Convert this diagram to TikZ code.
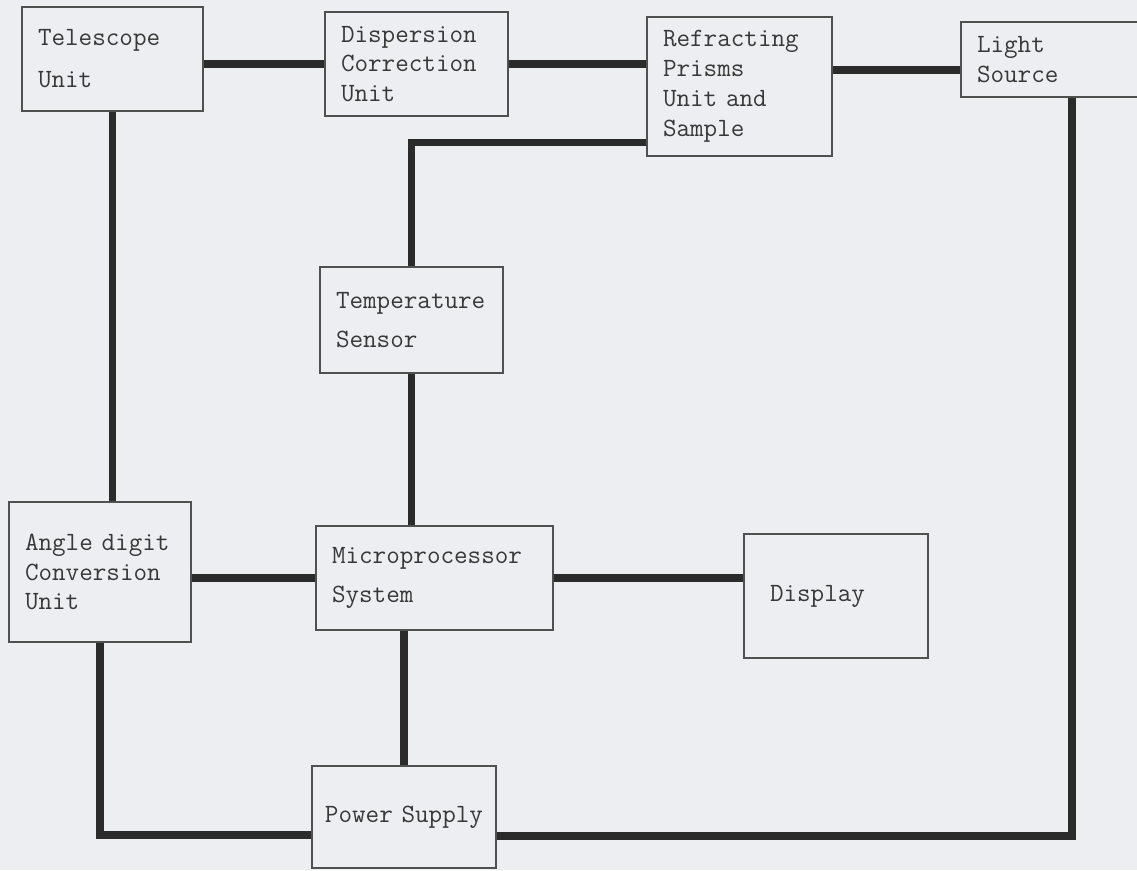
\documentclass[tikz,border=0pt]{standalone}
\usepackage{xcolor}
\definecolor{paper}{HTML}{EDEEF2}
\definecolor{wirecol}{HTML}{2B2B2B}
\definecolor{edgecol}{HTML}{505050}
\definecolor{inkcol}{HTML}{383838}
\begin{document}
\begin{tikzpicture}[x=0.02cm, y=-0.02cm,
  font=\fontsize{15}{17}\selectfont\ttfamily,
  unit/.style 2 args={draw=edgecol, line width=0.6pt, text=inkcol, align=left, inner xsep=0.32cm, inner ysep=0pt, text width=#1, minimum height=#2},
  wire/.style={draw=wirecol, line width=4pt}]
\fill[paper] (0,0) rectangle (1137,870);
\useasboundingbox (0,0) rectangle (1137,870);
\node[unit={2.98cm}{2.08cm}] (tele) at (112.5,59) {Telescope\\[7pt]Unit};
\node[unit={3.02cm}{2.08cm}] (corr) at (416.5,64) {Dispersion\\Correction\\Unit};
\node[unit={3.06cm}{2.78cm}] (refr) at (739.5,86.5) {Refracting\\Prisms\\Unit and\\Sample};
\node[unit={3.00cm}{1.50cm}] (light) at (1052,59.5) {Light\\Source};
\node[unit={3.02cm}{2.12cm}] (temp) at (411.5,320) {Temperature\\[5.5pt]Sensor};
\node[unit={3.00cm}{2.80cm}] (angle) at (100,572) {Angle digit\\Conversion\\Unit};
\node[unit={4.10cm}{2.08cm}] (micro) at (434.5,578) {Microprocessor\\[5.5pt]System};
\node[unit={2.64cm}{2.48cm}, inner xsep=0.52cm] (disp) at (836,596) {Display};
\node[unit={3.32cm}{2.04cm}, inner xsep=0.18cm, align=center] (power) at (404,817) {Power Supply};
\coordinate (lw) at ([yshift=-0.21cm]light.west);
\coordinate (pw) at ([yshift=-0.36cm]power.west);
\coordinate (pe) at ([yshift=-0.38cm]power.east);
\draw[wire] (tele.east |- corr.west) -- (corr.west);
\draw[wire] (corr.east) -- (corr.east -| refr.west);
\draw[wire] (lw -| refr.east) -- (lw);
\draw[wire] ([yshift=0.28cm]refr.south west) -| (temp.north);
\draw[wire] (tele.south) -- (tele.south |- angle.north);
\draw[wire] (temp.south) -- (temp.south |- micro.north);
\draw[wire] (angle.east |- micro.west) -- (micro.west);
\draw[wire] (micro.east) -- (micro.east -| disp.west);
\draw[wire] (power.north |- micro.south) -- (power.north);
\draw[wire] (angle.south) |- (pw);
\draw[wire] (pe) -| ([xshift=0.40cm]light.south);
\end{tikzpicture}
\end{document}
